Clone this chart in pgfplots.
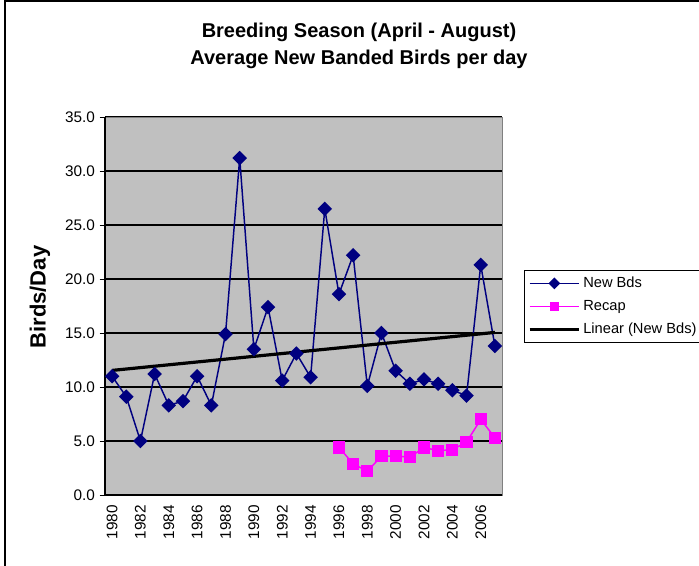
\documentclass[border=0pt]{standalone}
\usepackage{pgfplots}
\usepackage{pgfplotstable}
\pgfplotsset{compat=1.18}
\usepackage{fontspec}
\setmainfont{Liberation Sans}
\definecolor{navyc}{HTML}{000080}
\definecolor{magc}{HTML}{FF00FF}
\definecolor{plotgray}{HTML}{C0C0C0}
\pgfplotstableread{
year new
1980 11.0
1981 9.1
1982 5.0
1983 11.2
1984 8.3
1985 8.7
1986 11.0
1987 8.3
1988 14.9
1989 31.2
1990 13.5
1991 17.4
1992 10.6
1993 13.1
1994 10.9
1995 26.5
1996 18.6
1997 22.2
1998 10.1
1999 15.0
2000 11.5
2001 10.3
2002 10.7
2003 10.3
2004 9.7
2005 9.2
2006 21.3
2007 13.8
}\newdata
\pgfplotstableread{
year recap
1996 4.4
1997 2.9
1998 2.2
1999 3.6
2000 3.6
2001 3.5
2002 4.4
2003 4.1
2004 4.2
2005 4.9
2006 7.0
2007 5.3
}\recapdata
\begin{document}
\begin{tikzpicture}[x=0.75pt,y=0.75pt]
\useasboundingbox (0,0) rectangle (699,565);
\draw[line width=1.2pt] (5,-2) -- (5,564) -- (701,564);
\node[align=center,font=\fontsize{15}{20.5}\selectfont\bfseries] at (359,519) {Breeding Season (April - August)\\Average New Banded Birds per day};
\node[rotate=90,font=\fontsize{16.5}{18}\selectfont\bfseries] at (40,268) {Birds/Day};
\begin{axis}[
  at={(78.75pt,52.5pt)}, anchor=south west,
  scale only axis, width=297.75pt, height=283.5pt,
  xmin=1979.5, xmax=2007.5, ymin=0, ymax=35,
  axis background/.style={fill=plotgray},
  axis line style={draw=gray},
  ytick={0,5,...,35},
  yticklabel style={/pgf/number format/.cd,fixed,fixed zerofill,precision=1},
  /pgf/number format/assume math mode=true,
  ymajorgrids, major grid style={black, line width=0.8pt},
  xtick={1980,1982,...,2006},
  xticklabel style={rotate=90, anchor=east, /pgf/number format/set thousands separator={}},
  minor xtick={1979.5,1980.5,...,2007.5},
  xtick style={draw=none},
  minor tick style={black, line width=0.6pt},
  minor tick length=4pt,
  ytick style={black, line width=0.6pt},
  major tick length=4pt,
  tick align=outside,
  xtick pos=bottom, ytick pos=left,
  tick label style={font=\fontsize{11.5}{13}\selectfont},
  legend style={at={(axis description cs:1.055,0.595)}, anchor=north west, draw=black, fill=white, font=\fontsize{11}{13}\selectfont, row sep=4pt, inner xsep=3pt, inner ysep=3pt},
  legend cell align=left,
  legend image code/.code={\draw[mark repeat=2,mark phase=2,mark size=2.6pt] plot coordinates {(0cm,0cm) (0.65cm,0cm) (1.3cm,0cm)};},
  clip=false,
]
\draw[black, line width=0.8pt] (axis description cs:0,0) -- (axis description cs:0,1);
\draw[black, line width=0.8pt] (axis description cs:0,0) -- (axis description cs:1,0);
\addplot[navyc, line width=1.1pt, mark=square*, mark size=3.3pt, mark options={rotate=45, fill=navyc, draw=navyc}] table[x=year,y=new] {\newdata};
\addlegendentry{New Bds}
\addplot[magc, line width=1.1pt, mark=square*, mark size=4pt, mark options={fill=magc, draw=magc}] table[x=year,y=recap] {\recapdata};
\addlegendentry{Recap}
\addplot[black, line width=2.4pt, mark=none] table[x=year, y={create col/linear regression={y=new}}] {\newdata};
\addlegendentry{Linear (New Bds)}
\end{axis}
\end{tikzpicture}
\end{document}
